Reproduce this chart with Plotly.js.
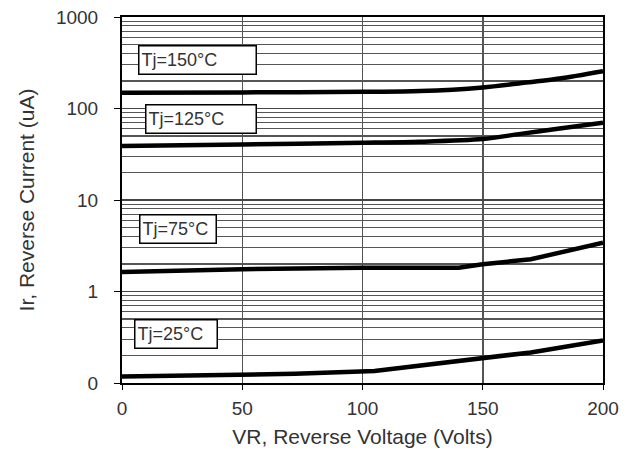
<!DOCTYPE html>
<html>
<head>
<meta charset="utf-8">
<script src="https://cdn.plot.ly/plotly-3.0.1.min.js"></script>
<style>html,body{margin:0;padding:0;background:#fff;}#chart{width:632px;height:452px;}</style>
</head>
<body>
<div id="chart"></div>
<script>
// Reverse voltage (V) and reverse current (uA)
const vr150 = [0, 50, 100, 124, 150, 165, 182, 200];
const ir150 = [149, 150, 152, 155, 170, 188, 213, 256];
const vr125 = [0, 50, 100, 124, 150, 165, 182, 200];
const ir125 = [39, 40.5, 42.2, 43.3, 46.3, 52.5, 60.6, 69.7];
const vr75 = [0, 50, 100, 140, 150, 170, 200];
const ir75 = [1.63, 1.75, 1.82, 1.82, 1.99, 2.25, 3.42];
const vr25 = [0, 50, 72, 105, 150, 170, 200];
const ir25 = [0.118, 0.123, 0.126, 0.135, 0.19, 0.216, 0.292];
const labels = ["Tj=150°C", "Tj=125°C", "Tj=75°C", "Tj=25°C"];
const yTickVals = [0.1, 1, 10, 100, 1000];
const yTickText = ["0", "1", "10", "100", "1000"];
const xTickVals = [0, 50, 100, 150, 200];

const font = "Liberation Sans, Arial, sans-serif";
const lineStyle = {color: "#000", width: 4.5, shape: "spline", smoothing: 0.8};
const mk = (x, y, s) => ({x: x, y: y, type: "scatter", mode: "lines", line: Object.assign({}, lineStyle, s || {}), hoverinfo: "skip", showlegend: false});
const data = [
  mk(vr150, ir150),
  mk(vr125, ir125),
  mk(vr75, ir75, {shape: "linear"}),
  mk(vr25, ir25, {shape: "linear"})
];

const boxPos = [
  {x: 0.0333, y: 0.8826, w: 112},
  {x: 0.0478, y: 0.7215, w: 105},
  {x: 0.0353, y: 0.4212, w: 71},
  {x: 0.0249, y: 0.1332, w: 77}
];
const annotations = labels.map((t, i) => ({
  text: t, xref: "paper", yref: "paper", x: boxPos[i].x, y: boxPos[i].y,
  xanchor: "left", yanchor: "middle", showarrow: false, align: "left",
  width: boxPos[i].w, height: 23, borderpad: 2, borderwidth: 1.5, bordercolor: "#000",
  bgcolor: "#fff", font: {family: font, size: 18, color: "#333"}
}));

const layout = {
  width: 632, height: 452,
  margin: {l: 122, r: 29, t: 17, b: 69},
  paper_bgcolor: "#fff", plot_bgcolor: "#fff",
  font: {family: font, color: "#333"},
  xaxis: {
    range: [0, 200], tickvals: xTickVals, ticks: "outside", ticklen: 5, tickcolor: "#000",
    showgrid: true, gridcolor: "#555", gridwidth: 1.5, zeroline: false,
    showline: true, linecolor: "#000", linewidth: 2, mirror: true,
    tickfont: {size: 19, color: "#333"}, ticklabelstandoff: 2,
    title: {text: "VR, Reverse Voltage (Volts)", font: {size: 21, color: "#333"}, standoff: 12}
  },
  yaxis: {
    type: "log", range: [-1, 3], tickvals: yTickVals, ticktext: yTickText,
    ticks: "outside", ticklen: 6, tickcolor: "#000",
    showgrid: true, gridcolor: "#444", gridwidth: 1.2, zeroline: false,
    showline: true, linecolor: "#000", linewidth: 2, mirror: true,
    tickfont: {size: 19, color: "#333"}, ticklabelstandoff: 12,
    minor: {dtick: "D1", showgrid: true, gridcolor: "#555", gridwidth: 1.1, ticks: ""},
    title: {text: "Ir, Reverse Current (uA)", font: {size: 21, color: "#333"}, standoff: 16}
  },
  annotations: annotations
};
Plotly.newPlot("chart", data, layout, {staticPlot: true, displayModeBar: false});
</script>
</body>
</html>
